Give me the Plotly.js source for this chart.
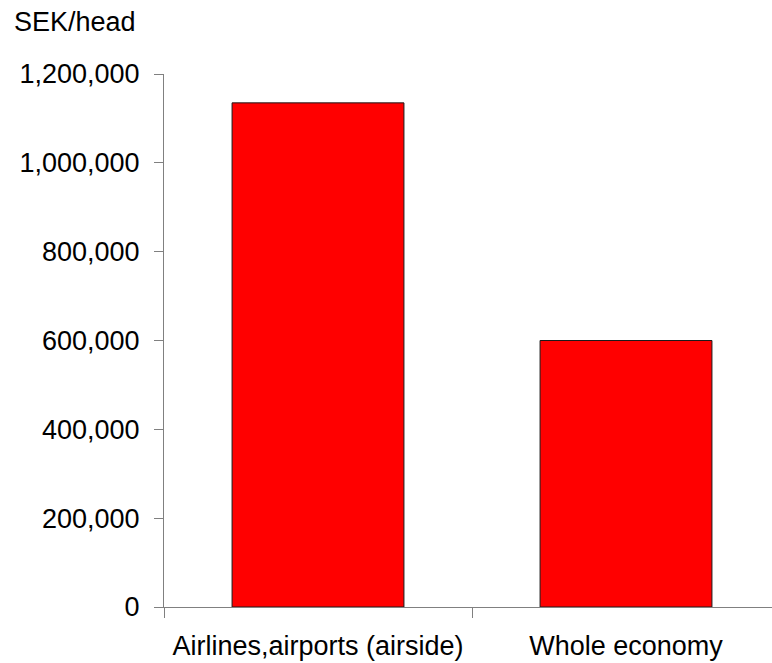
<!DOCTYPE html>
<html>
<head>
<meta charset="utf-8">
<script src="https://cdn.plot.ly/plotly-3.0.1.min.js"></script>
<style>html,body{margin:0;padding:0;background:#fff;}#chart{width:772px;height:663px;}</style>
</head>
<body>
<div id="chart"></div>
<script>
var categories = ["Airlines,airports (airside)", "Whole economy"];
var values = [1135000, 600000];
var yTickVals = [0, 200000, 400000, 600000, 800000, 1000000, 1200000];
var unitLabel = "SEK/head";

var font = {family: "Liberation Sans, Arial, sans-serif", size: 27, color: "#000"};

var trace = {
  type: "bar",
  x: categories,
  y: values,
  marker: {color: "#ff0000", line: {color: "#1a1a1a", width: 1}},
  hoverinfo: "none"
};

var layout = {
  width: 772,
  height: 663,
  margin: {l: 164, r: 0, t: 74, b: 56, pad: 0},
  paper_bgcolor: "#fff",
  plot_bgcolor: "#fff",
  showlegend: false,
  bargap: 0.442,
  font: font,
  xaxis: {
    type: "category",
    range: [-0.5, 1.474],
    showline: true,
    linecolor: "#808080",
    linewidth: 1,
    ticks: "outside",
    tickson: "boundaries",
    ticklen: 10,
    tickcolor: "#808080",
    showgrid: false,
    zeroline: false,
    ticklabelstandoff: 15,
    tickfont: font
  },
  yaxis: {
    range: [0, 1200000],
    tickvals: yTickVals,
    tickformat: ",d",
    showline: true,
    linecolor: "#808080",
    linewidth: 1,
    ticks: "outside",
    ticklen: 9,
    tickcolor: "#808080",
    showgrid: false,
    zeroline: false,
    ticklabelstandoff: 9,
    tickfont: font
  },
  annotations: [{
    text: unitLabel,
    xref: "paper", yref: "paper",
    x: -164/608, y: 1 + 52/533.7,
    xanchor: "left", yanchor: "middle",
    xshift: 12,
    showarrow: false,
    font: font
  }]
};

Plotly.newPlot("chart", [trace], layout, {staticPlot: true, displayModeBar: false});
</script>
</body>
</html>
